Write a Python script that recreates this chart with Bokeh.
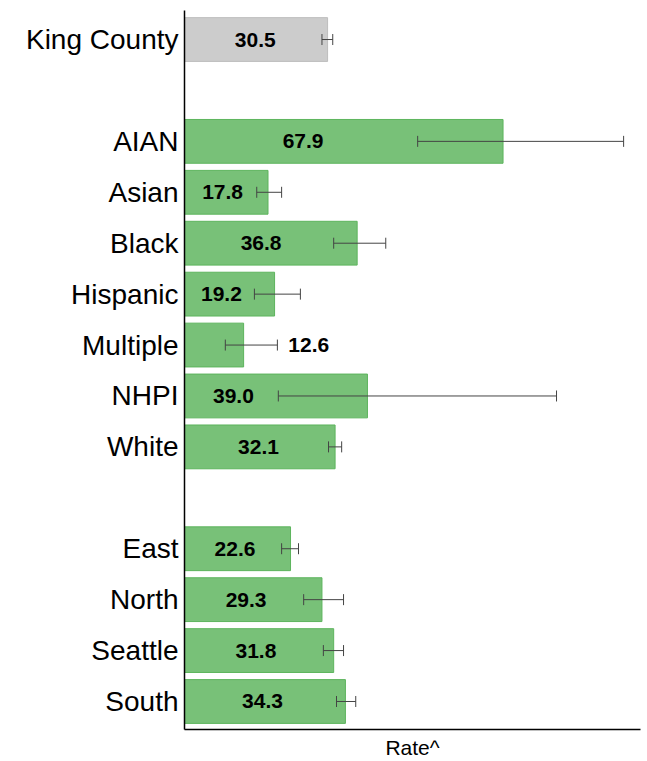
from bokeh.plotting import figure
from bokeh.models import ColumnDataSource, Whisker, TeeHead, FixedTicker, Range1d, LabelSet
from bokeh.core.properties import value
from bokeh.embed import file_html
from bokeh.resources import INLINE

# Rates with 95% confidence limits
categories = ["King County", "AIAN", "Asian", "Black", "Hispanic", "Multiple", "NHPI", "White",
              "East", "North", "Seattle", "South"]
rates = [30.5, 67.9, 17.8, 36.8, 19.2, 12.6, 39.0, 32.1, 22.6, 29.3, 31.8, 34.3]
lower = [29.3, 49.7, 15.4, 31.8, 14.9, 8.7, 20.0, 30.7, 20.7, 25.4, 29.6, 32.4]
upper = [31.6, 93.6, 20.7, 42.9, 24.7, 19.8, 79.3, 33.5, 24.3, 33.9, 33.9, 36.5]
# row slot for each category (blank slots separate the groups)
slots = [0, 2, 3, 4, 5, 6, 7, 8, 10, 11, 12, 13]

FONT = "Liberation Sans"
GREEN, GREEN_LINE = "#78c178", "#5db45d"
GREY, GREY_LINE = "#cccccc", "#bdbdbd"

fill = [GREY if c == "King County" else GREEN for c in categories]
edge = [GREY_LINE if c == "King County" else GREEN_LINE for c in categories]

# value labels sit centred in the part of the bar left of the error bar,
# unless the bar is too short to hold them
lab_x, lab_align = [], []
for r, lo, hi in zip(rates, lower, upper):
    if r < 15:
        lab_x.append(hi + 1.9)
        lab_align.append("left")
    else:
        lab_x.append(lo / 2)
        lab_align.append("center")

src = ColumnDataSource(dict(y=slots, rate=rates, lo=lower, hi=upper, fill=fill, edge=edge,
                            lx=lab_x, la=lab_align, txt=[f"{r:.1f}" for r in rates]))

p = figure(width=647, height=761, output_backend="svg", toolbar_location=None,
           x_range=Range1d(0, 97.2), y_range=Range1d(13.55, -0.57),
           min_border_left=184, min_border_right=7, min_border_top=10, min_border_bottom=31)
p.outline_line_color = None
p.grid.grid_line_color = None

p.hbar(y="y", left=0, right="rate", height=0.86, fill_color="fill", line_color="edge",
       line_width=1, source=src)

w = Whisker(base="y", lower="lo", upper="hi", dimension="width", source=src,
            line_color="#444444", line_width=1, level="annotation",
            lower_head=TeeHead(size=11, line_color="#444444", line_width=1),
            upper_head=TeeHead(size=11, line_color="#444444", line_width=1))
p.add_layout(w)

labels = LabelSet(x="lx", y="y", text="txt", source=src, text_align="la",
                  text_baseline="middle", text_font=value(FONT), text_font_style="bold",
                  text_font_size="21px", text_color="black", level="annotation",
                  x_offset=2)
p.add_layout(labels)

# y axis: category names at their slots
p.yaxis.ticker = FixedTicker(ticks=slots)
p.yaxis.major_label_overrides = {s: c for s, c in zip(slots, categories)}
p.yaxis.major_label_text_font = FONT
p.yaxis.major_label_text_font_size = "28px"
p.yaxis.major_label_text_color = "black"
p.yaxis.major_tick_line_color = None
p.yaxis.minor_tick_line_color = None
p.yaxis.major_tick_out = 0
p.yaxis.major_tick_in = 0
p.yaxis.major_label_standoff = 6
p.yaxis.axis_line_color = "black"
p.yaxis.axis_line_width = 1.5

# x axis: only the line and its title
p.xaxis.ticker = FixedTicker(ticks=[])
p.xaxis.major_label_text_font_size = "0px"
p.xaxis.major_tick_line_color = None
p.xaxis.minor_tick_line_color = None
p.xaxis.major_tick_out = 0
p.xaxis.major_tick_in = 0
p.xaxis.axis_line_color = "black"
p.xaxis.axis_line_width = 1.5
p.xaxis.axis_label = "Rate^"
p.xaxis.axis_label_text_font = FONT
p.xaxis.axis_label_text_font_style = "normal"
p.xaxis.axis_label_text_font_size = "21px"
p.xaxis.axis_label_text_color = "black"
p.xaxis.axis_label_standoff = 6

open("out.html", "w").write(file_html(p, INLINE))
